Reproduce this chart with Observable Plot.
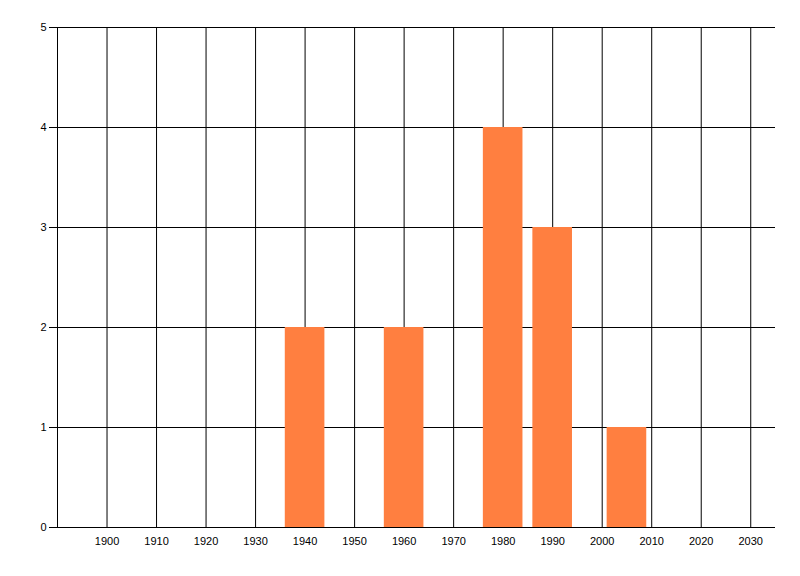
<!DOCTYPE html>
<html>
<head>
<meta charset="utf-8">
<script src="https://cdn.jsdelivr.net/npm/d3@7"></script>
<script src="https://cdn.jsdelivr.net/npm/@observablehq/plot@0.6"></script>
<style>
  html, body { margin: 0; padding: 0; background: #fff; }
</style>
</head>
<body>
<div id="chart"></div>
<script>
// data
const years = [1940, 1960, 1980, 1990, 2005];
const counts = [2, 2, 4, 3, 1];
const xTicks = [1900, 1910, 1920, 1930, 1940, 1950, 1960, 1970, 1980, 1990, 2000, 2010, 2020, 2030];
const yTicks = [0, 1, 2, 3, 4, 5];

const halfWidth = 4; // bar half width in years
const bars = years.map((y, i) => ({year: y, count: counts[i]}));

let chart = Plot.plot({
  width: 800,
  height: 576,
  marginTop: 27,
  marginLeft: 57,
  marginRight: 25,
  marginBottom: 49,
  style: {
    fontFamily: "Liberation Sans, Arial, sans-serif",
    fontSize: "11px",
    color: "black",
    background: "white"
  },
  x: {domain: [1890, 2035], ticks: xTicks, tickFormat: d => String(d), label: null},
  y: {domain: [0, 5], ticks: yTicks, tickFormat: d => String(d), label: null},
  marks: [
    // grid
    Plot.ruleX([1890, ...xTicks], {stroke: "black", strokeWidth: 1, strokeOpacity: 1}),
    Plot.ruleY(yTicks, {stroke: "black", strokeWidth: 1, strokeOpacity: 1}),
    Plot.rectY(bars, {
      x1: d => d.year - halfWidth,
      x2: d => d.year + halfWidth,
      y: "count",
      fill: "#FF7F40"
    }),
    Plot.axisX({ticks: xTicks, tickSize: 0, tickPadding: 10, tickFormat: d => String(d), label: null}),
    Plot.axisY({ticks: yTicks, tickSize: 8, tickPadding: 3, tickFormat: d => String(d), label: null, stroke: "black", strokeOpacity: 1}),
    Plot.ruleY([0], {stroke: "black"})
  ]
});

d3.select("#chart").append(() => chart);
</script>
</body>
</html>
